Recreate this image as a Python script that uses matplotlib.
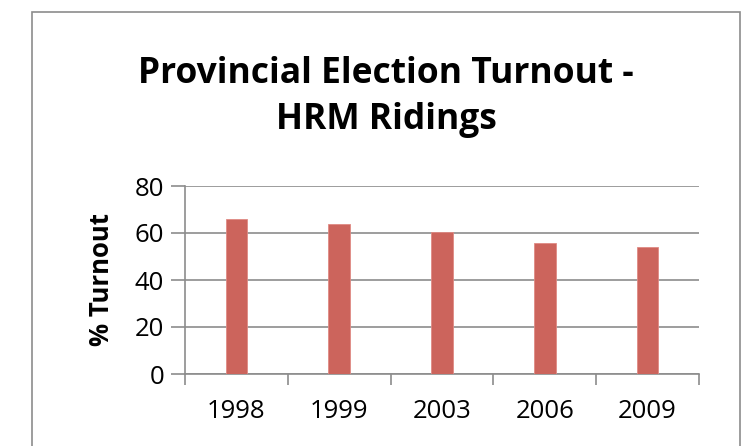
import matplotlib.pyplot as plt
from matplotlib.patches import Rectangle

years = ["1998", "1999", "2003", "2006", "2009"]
turnout = [66.0, 63.8, 60.6, 55.8, 54.2]
y_ticks = [0, 20, 40, 60, 80]

plt.rcParams["font.family"] = ["Open Sans", "DejaVu Sans"]

fig = plt.figure(figsize=(7.48, 4.46), dpi=100)
fig.patch.set_facecolor("white")

# chart area border (right side runs to the edge, bottom is cut off)
fig.patches.append(Rectangle((32 / 748, -0.05), 708 / 748, 1.05 - 12 / 446,
                             transform=fig.transFigure, fill=False,
                             edgecolor="#8c8c8c", linewidth=1.2))

ax = fig.add_axes([185 / 748, 1 - 374 / 446, 514 / 748, 188 / 446])
x = range(len(years))
ax.bar(x, turnout, width=0.21, color="#cc645c", edgecolor="#e08a84",
       linewidth=0.6, zorder=3)

ax.set_xlim(-0.5, len(years) - 0.5)
ax.set_ylim(0, 80)
ax.set_yticks(y_ticks)
ax.set_xticks(list(x))
ax.set_xticklabels(years)
ax.set_xticks([i - 0.5 for i in range(len(years) + 1)], minor=True)
ax.tick_params(axis="x", which="major", length=0, pad=18, labelsize=18.5)
ax.tick_params(axis="x", which="minor", length=8, width=1.2,
               color="#8c8c8c", direction="out")
ax.tick_params(axis="y", length=10, width=1.2, color="#8c8c8c",
               labelsize=18.5, pad=5)
ax.grid(axis="y", color="#8c8c8c", linewidth=1.2, zorder=0)

for side in ["top", "right"]:
    ax.spines[side].set_visible(False)
for side in ["left", "bottom"]:
    ax.spines[side].set_color("#8c8c8c")
    ax.spines[side].set_linewidth(1.2)

ax.set_ylabel("% Turnout", fontsize=18.5, fontweight="bold", labelpad=14)

fig.text(386 / 748, 1 - 97 / 446, "Provincial Election Turnout -\nHRM Ridings",
         ha="center", va="center", fontsize=25.5, fontweight="bold",
         linespacing=1.35)

fig.savefig("out.png", dpi=100)
